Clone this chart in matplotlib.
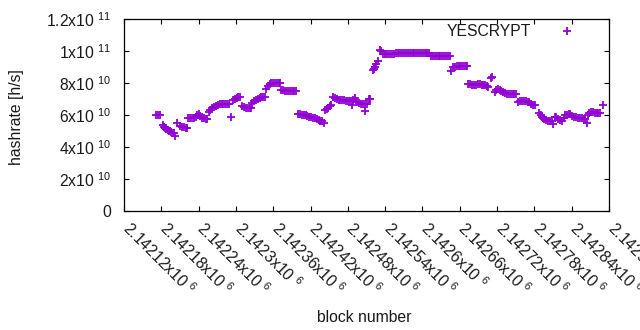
import matplotlib
matplotlib.use("Agg")
import matplotlib.pyplot as plt
import matplotlib.transforms as mtransforms
import numpy as np

# ---- data (block number, hashrate in units of 1e10 h/s) ----
block = [
    2142172, 2142175, 2142178,
    2142182, 2142184, 2142186, 2142188, 2142190, 2142192, 2142194, 2142196, 2142198, 2142200, 2142202,
    2142206, 2142210, 2142213, 2142216, 2142219, 2142221,
    2142223, 2142226, 2142229, 2142232, 2142235, 2142238, 2142240, 2142243, 2142246, 2142249, 2142252, 2142254,
    2142256, 2142259, 2142262, 2142265, 2142268, 2142271, 2142274, 2142277, 2142280, 2142283, 2142286, 2142289,
    2142292, 2142296, 2142298, 2142301, 2142304, 2142306,
    2142310, 2142313, 2142316, 2142319, 2142322, 2142324,
    2142326, 2142329, 2142332, 2142335, 2142338, 2142341, 2142344, 2142347,
    2142349, 2142351, 2142354, 2142357, 2142360, 2142363, 2142366, 2142369, 2142371,
    2142373, 2142376, 2142379, 2142382, 2142385, 2142388, 2142391, 2142394, 2142397,
    2142400, 2142403, 2142406, 2142409, 2142412, 2142415, 2142418, 2142421, 2142424, 2142427, 2142430, 2142433, 2142436, 2142439, 2142441,
    2142443, 2142446, 2142448, 2142451, 2142453,
    2142456, 2142459, 2142462, 2142465, 2142468, 2142471, 2142474, 2142477, 2142480, 2142484, 2142486, 2142489, 2142491, 2142495, 2142498, 2142501, 2142504, 2142507, 2142508, 2142511, 2142514, 2142516,
    2142520, 2142522, 2142524, 2142526, 2142528,
    2142531, 2142533, 2142536, 2142539, 2142542, 2142545, 2142548, 2142551, 2142554, 2142557, 2142560, 2142563, 2142566, 2142569,
    2142572, 2142575, 2142578, 2142581, 2142584, 2142587, 2142590, 2142593, 2142596, 2142599, 2142602, 2142605, 2142608, 2142611,
    2142614, 2142617, 2142620, 2142623, 2142626, 2142629, 2142632, 2142635, 2142638, 2142641, 2142644,
    2142646, 2142649, 2142652, 2142655, 2142658, 2142661, 2142664, 2142667, 2142670, 2142672,
    2142674, 2142677, 2142680, 2142683, 2142686, 2142689, 2142692, 2142695, 2142698, 2142701, 2142704, 2142706,
    2142710, 2142712,
    2142716, 2142718, 2142721, 2142724, 2142727, 2142730, 2142733, 2142736, 2142739, 2142742, 2142745, 2142748, 2142751,
    2142754, 2142757, 2142760, 2142763, 2142766, 2142769, 2142772, 2142775, 2142778, 2142781,
    2142788, 2142790, 2142792, 2142794, 2142796, 2142799, 2142802, 2142805, 2142808, 2142810, 2142813, 2142815, 2142818, 2142821, 2142824, 2142827,
    2142829, 2142832, 2142835, 2142838, 2142841, 2142844, 2142847, 2142850, 2142853, 2142856, 2142859, 2142862, 2142864,
    2142866, 2142868, 2142871, 2142874, 2142877, 2142880, 2142883, 2142886,
    2142890,
]

hashrate_e10 = [
    6.0, 5.98, 5.98,
    5.38, 5.27, 5.2, 5.13, 5.08, 5.02, 4.98, 4.92, 4.88, 4.85, 4.69,
    5.48, 5.3, 5.27, 5.24, 5.2, 5.17,
    5.79, 5.79, 5.8, 5.82, 5.85, 6.02, 6.04, 5.95, 5.82, 5.79, 5.77, 5.75,
    6.21, 6.33, 6.42, 6.5, 6.58, 6.65, 6.67, 6.68, 6.67, 6.67, 6.67, 6.66,
    5.85, 6.94, 6.98, 7.04, 7.1, 7.12,
    6.56, 6.5, 6.44, 6.42, 6.42, 6.42,
    6.75, 6.88, 6.96, 7.02, 7.08, 7.12, 7.15, 7.15,
    7.6, 7.8, 7.94, 8.0, 8.02, 8.0, 8.0, 7.98, 7.98,
    7.56, 7.54, 7.52, 7.5, 7.48, 7.48, 7.48, 7.47, 7.47,
    6.06, 6.04, 6.02, 6.0, 5.98, 5.94, 5.9, 5.85, 5.83, 5.8, 5.72, 5.69, 5.64, 5.6, 5.52,
    6.3, 6.4, 6.46, 6.54, 6.6,
    7.12, 7.08, 6.98, 6.96, 6.94, 6.94, 6.92, 6.88, 6.86, 6.9, 6.63, 6.95, 7.08, 6.83, 6.72, 6.69, 6.67, 6.67, 6.27, 6.67, 6.98, 7.0,
    8.8, 8.9, 9.0, 9.2, 9.38,
    10.06, 10.0, 9.81, 9.79, 9.79, 9.79, 9.79, 9.79, 9.8, 9.85, 9.85, 9.85, 9.85, 9.85,
    9.85, 9.85, 9.85, 9.85, 9.85, 9.85, 9.85, 9.85, 9.85, 9.85, 9.85, 9.85, 9.85, 9.85,
    9.69, 9.69, 9.69, 9.69, 9.69, 9.69, 9.69, 9.69, 9.69, 9.69, 9.67,
    8.77, 8.98, 9.02, 9.04, 9.04, 9.04, 9.04, 9.04, 9.04, 9.04,
    7.94, 7.92, 7.9, 7.88, 7.9, 7.92, 7.92, 7.9, 7.88, 7.87, 7.82, 7.77,
    8.33, 8.35,
    7.46, 7.58, 7.6, 7.58, 7.52, 7.42, 7.35, 7.33, 7.31, 7.31, 7.3, 7.3, 7.3,
    6.83, 6.85, 6.88, 6.88, 6.85, 6.83, 6.8, 6.69, 6.65, 6.63,
    6.1, 6.0, 5.89, 5.8, 5.73, 5.68, 5.64, 5.62, 5.6, 5.45, 5.88, 5.9, 5.75, 5.66, 5.64, 5.79,
    6.0, 6.02, 6.04, 6.04, 5.96, 5.89, 5.85, 5.83, 5.79, 5.79, 5.77, 5.75, 5.5,
    6.0, 6.1, 6.21, 6.18, 6.12, 6.1, 6.1, 6.1,
    6.63,
]

series_label = "YESCRYPT"

ytick_values = [0, 2e10, 4e10, 6e10, 8e10, 1e11, 1.2e11]
ytick_labels = ["0", "2x10 $^{10}$", "4x10 $^{10}$", "6x10 $^{10}$",
                "8x10 $^{10}$", "1x10 $^{11}$", "1.2x10 $^{11}$"]

xtick_values = [2142120, 2142180, 2142240, 2142300, 2142360, 2142420, 2142480,
                2142540, 2142600, 2142660, 2142720, 2142780, 2142840, 2142900]
xtick_labels = ["2.14212x10 $^{6}$", "2.14218x10 $^{6}$", "2.14224x10 $^{6}$",
                "2.1423x10 $^{6}$", "2.14236x10 $^{6}$", "2.14242x10 $^{6}$",
                "2.14248x10 $^{6}$", "2.14254x10 $^{6}$", "2.1426x10 $^{6}$",
                "2.14266x10 $^{6}$", "2.14272x10 $^{6}$", "2.14278x10 $^{6}$",
                "2.14284x10 $^{6}$", "2.1429x10 $^{6}$"]

# ---- style ----
plt.rcParams['font.family'] = ['Liberation Sans', 'DejaVu Sans']
plt.rcParams['mathtext.fontset'] = 'custom'
plt.rcParams['mathtext.rm'] = 'Liberation Sans'
plt.rcParams['mathtext.it'] = 'Liberation Sans:italic'
plt.rcParams['mathtext.bf'] = 'Liberation Sans:bold'
FS = 11.3
COLOR = '#9400d3'
TEXT = '#1a1a1a'

W, H = 640, 330
fig = plt.figure(figsize=(W / 100, H / 100), dpi=100)
L, R, T, B = 124, 609, 19, 211
ax = fig.add_axes([L / W, 1 - B / H, (R - L) / W, (B - T) / H])

ax.plot(np.array(block), np.array(hashrate_e10) * 1e10, linestyle='none',
        marker='+', markersize=6.0, markeredgewidth=1.3, color=COLOR,
        label=series_label)

ax.set_xlim(2142120, 2142900)
ax.set_ylim(0, 1.2e11)

ax.set_yticks(ytick_values)
ax.set_yticklabels(ytick_labels, fontsize=FS, color=TEXT)
ax.set_xticks(xtick_values)
ax.set_xticklabels(xtick_labels, fontsize=FS, color=TEXT, rotation=-45,
                   ha='left', va='baseline', rotation_mode='anchor')

ax.tick_params(direction='in', top=True, right=True, length=3.6, width=0.8)
ax.tick_params(axis='y', pad=9)
ax.tick_params(axis='x', pad=13.7)
for sp in ax.spines.values():
    sp.set_linewidth(0.9)

offset = mtransforms.ScaledTranslation(-3.0 / 100, 0, fig.dpi_scale_trans)
for lbl in ax.get_xticklabels():
    lbl.set_transform(lbl.get_transform() + offset)

leg = ax.legend(loc='center right',
                bbox_to_anchor=((583 - L) / (R - L), (B - 31.5) / (B - T)),
                frameon=False, markerfirst=False, handlelength=2.0,
                handletextpad=1.33, borderpad=0, borderaxespad=0, fontsize=FS)
for t in leg.get_texts():
    t.set_color(TEXT)

fig.text(364.5 / W, 1 - 317 / H, "block number", ha='center', va='center',
         fontsize=FS, color=TEXT)
fig.text(17 / W, 1 - 117.5 / H, "hashrate [h/s]", ha='center', va='center',
         rotation=90, fontsize=FS, color=TEXT)

fig.savefig("out.png", dpi=100)
